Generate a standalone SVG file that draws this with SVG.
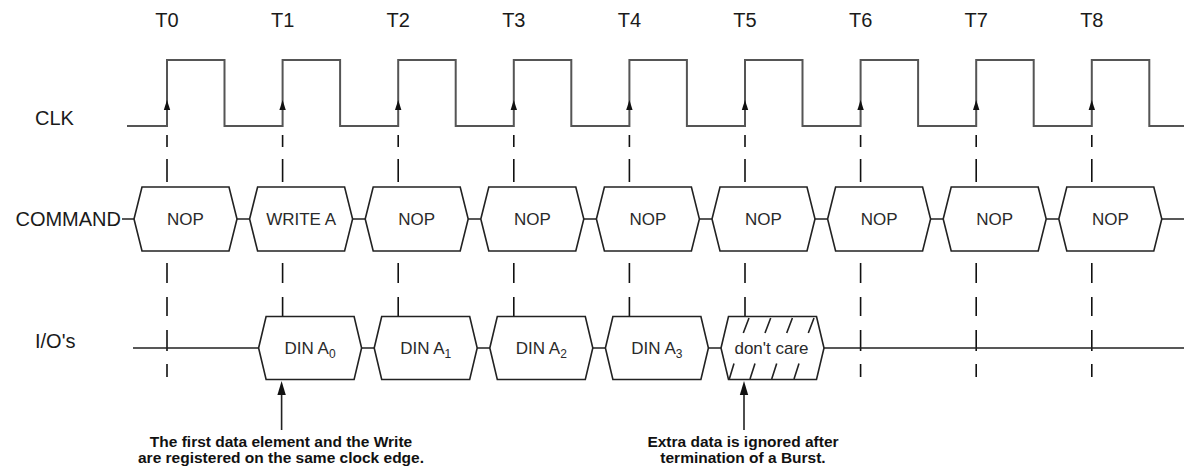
<svg xmlns="http://www.w3.org/2000/svg" xmlns:xlink="http://www.w3.org/1999/xlink" width="1184" height="470" viewBox="0 0 1184 470">
<style>
text{font-family:"Liberation Sans",Arial,sans-serif;fill:#1a1a1a}
.lbl{font-size:20px}
.tl{font-size:20px;text-anchor:middle}
.bx{font-size:17px;text-anchor:middle;fill:#2a2a2a}
.sub{font-size:12px}
.note{font-size:15.5px;font-weight:bold;text-anchor:middle;fill:#111}
.clk{fill:none;stroke:#555;stroke-width:2}
.edge{fill:none;stroke:#222;stroke-width:1.6}
.dash{fill:none;stroke:#111;stroke-width:1.6}
.hex{fill:#fff;stroke:#222;stroke-width:1.6}
.ah{fill:#111}
</style>
<defs>
<polygon id="hexC" class="hex" points="0,32 8,0 95,0 103,32 95,64 8,64"/>
<polygon id="hexD" class="hex" points="0,31.5 7.5,0 95.5,0 103,31.5 95.5,63 7.5,63"/>
<path id="dl" class="dash" d="M0,135V147M0,159V182M0,263V283M0,297V316"/>
<path id="dl2" class="dash" d="M0,330V351M0,364V377"/>
<polygon id="ck" class="ah" points="0,100 -3.2,110 3.2,110"/>
</defs>

<g id="labels">
<text class="tl" x="167" y="27">T0</text>
<text class="tl" x="282.6" y="27">T1</text>
<text class="tl" x="398.2" y="27">T2</text>
<text class="tl" x="513.8" y="27">T3</text>
<text class="tl" x="629.4" y="27">T4</text>
<text class="tl" x="745" y="27">T5</text>
<text class="tl" x="860.6" y="27">T6</text>
<text class="tl" x="976.2" y="27">T7</text>
<text class="tl" x="1091.8" y="27">T8</text>
<text class="lbl" x="35" y="125">CLK</text>
<text class="lbl" x="121" y="226" text-anchor="end">COMMAND</text>
<text class="lbl" x="35" y="348">I/O's</text>
</g>

<g id="clk">
<path class="clk" d="M127,126H167V60H224.5V126H282.6V60H340.1V126H398.2V60H455.7V126H513.8V60H571.3V126H629.4V60H686.9V126H745V60H802.5V126H860.6V60H918.1V126H976.2V60H1033.7V126H1091.8V60H1149.3V126H1184"/>
<use href="#ck" x="167"/><use href="#ck" x="282.6"/><use href="#ck" x="398.2"/><use href="#ck" x="513.8"/><use href="#ck" x="629.4"/><use href="#ck" x="745"/><use href="#ck" x="860.6"/><use href="#ck" x="976.2"/><use href="#ck" x="1091.8"/>
</g>

<g id="connectors">
<use href="#dl" x="167"/><use href="#dl" x="282.6"/><use href="#dl" x="398.2"/><use href="#dl" x="513.8"/><use href="#dl" x="629.4"/><use href="#dl" x="745"/><use href="#dl" x="860.6"/><use href="#dl" x="976.2"/><use href="#dl" x="1091.8"/>
<use href="#dl2" x="167"/><use href="#dl2" x="860.6"/><use href="#dl2" x="976.2"/><use href="#dl2" x="1091.8"/>
<path class="edge" d="M122,219H134M237,219H249.6M352.6,219H365.2M468.2,219H480.8M583.8,219H596.4M699.4,219H712M815,219H827.6M930.6,219H943.2M1046.2,219H1058.8M1161.8,219H1184"/>
<path class="edge" d="M133,348H258.6M361.6,348H374.2M477.2,348H489.8M592.8,348H605.4M708.4,348H721M824,348H1184"/>
<path class="edge" d="M281.6,394V430M744,394V430"/>
<polygon class="ah" points="281.6,381 277.4,395 285.8,395"/>
<polygon class="ah" points="744,381 739.8,395 748.2,395"/>
</g>

<g id="cmd0"><use href="#hexC" x="134" y="187"/><text class="bx" x="185.5" y="225">NOP</text></g>
<g id="cmd1"><use href="#hexC" x="249.6" y="187"/><text class="bx" x="301.1" y="225">WRITE A</text></g>
<g id="cmd2"><use href="#hexC" x="365.2" y="187"/><text class="bx" x="416.7" y="225">NOP</text></g>
<g id="cmd3"><use href="#hexC" x="480.8" y="187"/><text class="bx" x="532.3" y="225">NOP</text></g>
<g id="cmd4"><use href="#hexC" x="596.4" y="187"/><text class="bx" x="647.9" y="225">NOP</text></g>
<g id="cmd5"><use href="#hexC" x="712" y="187"/><text class="bx" x="763.5" y="225">NOP</text></g>
<g id="cmd6"><use href="#hexC" x="827.6" y="187"/><text class="bx" x="879.1" y="225">NOP</text></g>
<g id="cmd7"><use href="#hexC" x="943.2" y="187"/><text class="bx" x="994.7" y="225">NOP</text></g>
<g id="cmd8"><use href="#hexC" x="1058.8" y="187"/><text class="bx" x="1110.3" y="225">NOP</text></g>

<g id="io1"><use href="#hexD" x="258.6" y="316.5"/><text class="bx" x="310.1" y="354">DIN A<tspan class="sub" dy="4">0</tspan></text></g>
<g id="io2"><use href="#hexD" x="374.2" y="316.5"/><text class="bx" x="425.7" y="354">DIN A<tspan class="sub" dy="4">1</tspan></text></g>
<g id="io3"><use href="#hexD" x="489.8" y="316.5"/><text class="bx" x="541.3" y="354">DIN A<tspan class="sub" dy="4">2</tspan></text></g>
<g id="io4"><use href="#hexD" x="605.4" y="316.5"/><text class="bx" x="656.9" y="354">DIN A<tspan class="sub" dy="4">3</tspan></text></g>
<g id="io5"><use href="#hexD" x="721" y="316.5"/>
<path class="edge" d="M743.3,333L749,318M765,333L770.7,318M786.7,333L792.4,318M808.3,333L814,318M729.3,379L734,363.5M750,379L755,363.5M771.7,379L776.7,363.5M794,379L799,363.5"/>
<text class="bx" x="771.5" y="354">don't care</text></g>

<g id="note1"><text class="note" x="281" y="447">The first data element and the Write</text><text class="note" x="281" y="463">are registered on the same clock edge.</text></g>
<g id="note2"><text class="note" x="743" y="447">Extra data is ignored after</text><text class="note" x="743" y="463">termination of a Burst.</text></g>
</svg>
